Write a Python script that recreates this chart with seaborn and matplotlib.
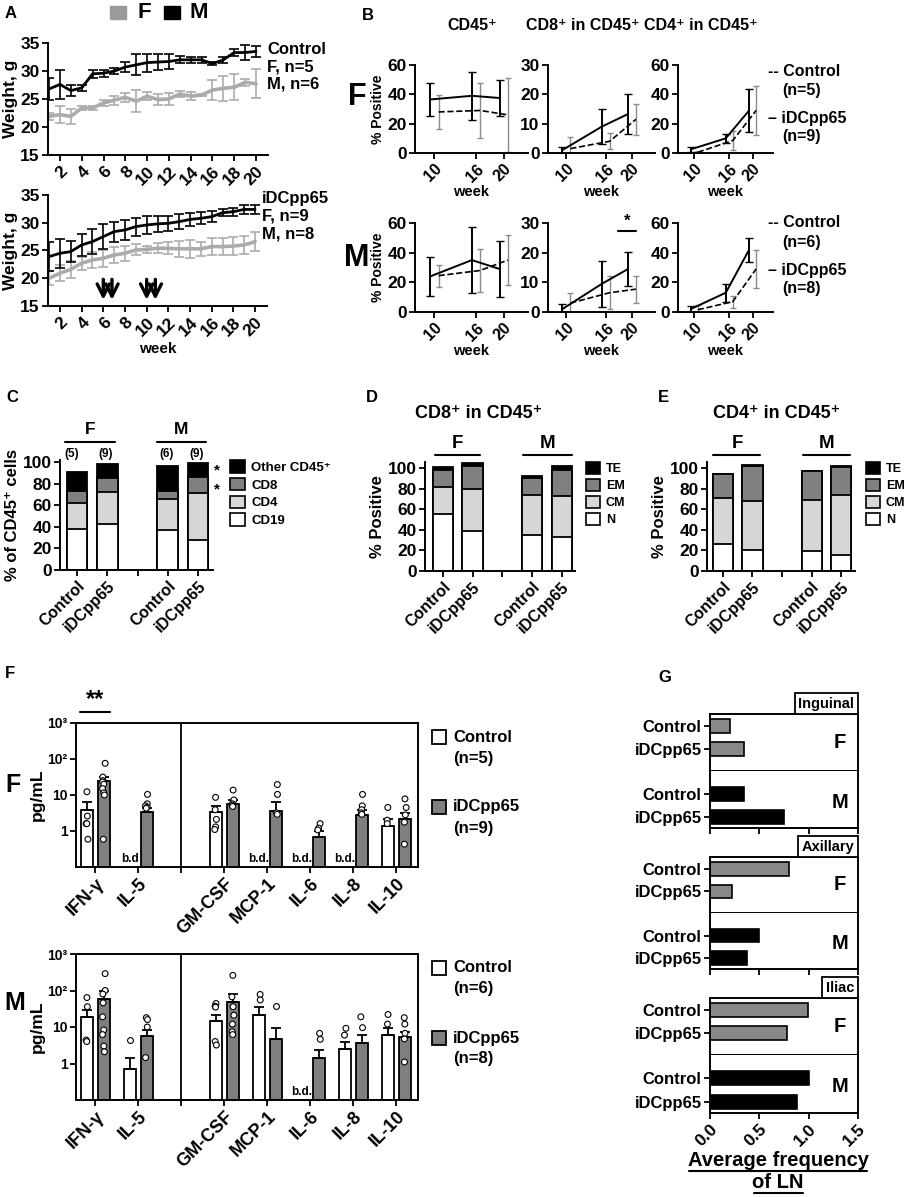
import numpy as np
import pandas as pd
import seaborn as sns
import matplotlib.pyplot as plt
from matplotlib.lines import Line2D
from matplotlib.patches import Patch, Rectangle

# ---- panel A: body weight (mean +/- SD) ----
weeks = list(range(1, 21))
ctrl_m = [26.8, 27.6, 26.5, 27.0, 29.5, 29.6, 30.0, 30.7, 31.1, 31.5,
          31.6, 31.7, 32.0, 32.0, 32.0, 31.3, 32.0, 33.3, 33.3, 33.5]
ctrl_m_err = [1.9, 2.6, 1.0, 0.5, 0.7, 0.6, 0.5, 0.9, 1.9, 1.6,
              1.5, 1.4, 0.6, 0.5, 0.5, 0.3, 0.5, 0.6, 1.4, 1.0]
ctrl_f = [21.9, 22.2, 21.9, 23.4, 23.4, 24.3, 24.8, 25.3, 24.6, 25.5,
          24.9, 25.0, 25.9, 25.5, 25.7, 26.6, 26.9, 27.1, 28.0, 27.7]
ctrl_f_err = [0.6, 1.5, 1.3, 0.3, 0.4, 0.6, 0.8, 0.8, 2.0, 0.7,
              1.0, 1.0, 0.6, 0.7, 0.2, 1.8, 2.2, 2.3, 0.6, 2.6]
idc_m = [23.9, 24.5, 24.8, 26.0, 26.6, 27.5, 28.4, 28.7, 29.3, 29.6,
         29.8, 29.9, 30.2, 30.6, 30.8, 31.1, 31.8, 32.0, 32.4, 32.4]
idc_m_err = [2.6, 2.6, 1.9, 2.0, 2.2, 2.3, 1.8, 1.8, 1.6, 1.6,
             1.5, 1.4, 1.3, 1.2, 1.1, 1.0, 0.6, 0.7, 0.8, 0.8]
idc_f = [20.0, 20.9, 21.6, 22.7, 23.3, 23.6, 24.2, 24.5, 25.1, 25.2,
         25.4, 25.4, 25.3, 25.3, 25.3, 25.7, 25.7, 25.8, 26.0, 26.6]
idc_f_err = [1.3, 1.4, 1.5, 1.2, 1.4, 1.5, 1.5, 1.4, 1.0, 0.7,
             0.9, 1.1, 1.4, 1.6, 1.3, 1.5, 1.5, 1.7, 1.6, 1.7]
vaccine_weeks = [6, 6.8, 10, 10.8]

# ---- panel B: blood T cells ----
b_weeks = [10, 16, 20]
b_titles = ["CD45⁺", "CD8⁺ in CD45⁺", "CD4⁺ in CD45⁺"]
b_f_idc = [[36.5, 39, 37.5], [1, 9, 13.3], [2.5, 10, 29]]
b_f_idc_err = [[11.5, 16.5, 12.5], [1, 6, 6.8], [1.5, 3, 14.5]]
b_f_ctrl = [[28, 29, 26], [1.5, 4, 11.5], [0.5, 8.5, 29]]
b_f_ctrl_err = [[11.8, 19, 25], [4, 2.8, 5.2], [0.8, 6.5, 17]]
b_m_idc = [[24, 35, 29], [1, 9.5, 14.5], [2, 13, 42]]
b_m_idc_err = [[13, 22, 19], [1.8, 7.7, 5.6], [2.3, 6, 8]]
b_m_ctrl = [[24.5, 28, 35], [3, 6.5, 7.7], [1.5, 7, 29]]
b_m_ctrl_err = [[7.5, 14.5, 17], [3.3, 5.6, 4.6], [3.5, 4, 13]]
b_ymax = [60, 30, 60]

# ---- panels C-E: stacked composition ----
bar_groups = ["F Control", "F iDCpp65", "M Control", "M iDCpp65"]
c_cd19 = [38, 43, 37, 28]
c_cd4 = [24, 29, 29, 43]
c_cd8 = [11, 13, 7, 15]
c_other = [18, 13, 23, 13]
c_n = ["(5)", "(9)", "(6)", "(9)"]
d_n = [55, 39, 35, 33.5]
d_cm = [27, 41, 39, 39.5]
d_em = [16.4, 22, 16.5, 25.4]
d_te = [2.6, 3, 1.5, 3.6]
e_n = [26, 20, 19, 15.5]
e_cm = [45, 48, 50, 58]
e_em = [23, 34, 28, 28]
e_te = [0.6, 0.6, 0.6, 0.6]

# ---- panel F: cytokines (mean + SEM, individual mice) ----
cytokines = ["IFN-γ", "IL-5", "GM-CSF", "MCP-1", "IL-6", "IL-8", "IL-10"]
nan = np.nan
f_ctrl_mean = [3.9, nan, 3.3, nan, nan, nan, 1.37]
f_ctrl_sem = [2.3, nan, 1.5, nan, nan, nan, 0.8]
f_idc_mean = [24, 3.4, 5.7, 3.7, 0.7, 2.85, 2.2]
f_idc_sem = [8, 0.9, 1.6, 2.5, 0.3, 1.0, 1.0]
m_ctrl_mean = [18.4, 0.72, 15, 22, nan, 2.5, 5.9]
m_ctrl_sem = [10.6, 0.73, 7, 14, nan, 1.5, 3.3]
m_idc_mean = [60, 5.8, 49, 4.7, 1.4, 3.6, 5.2]
m_idc_sem = [38, 2.5, 31, 4.9, 0.9, 2.4, 2.1]
f_ctrl_pts = {"IFN-γ": [12.3, 2.6, 1.6, 1.6, 0.59],
              "GM-CSF": [8.6, 3.9, 2.1, 1.3, 1.1],
              "IL-10": [4.5, 2.0, 1.6]}
f_idc_pts = {"IFN-γ": [76, 31.5, 25, 23, 20, 15, 11.5, 10, 0.59],
             "IL-5": [10.4, 5.7, 5.0, 4.6, 4.3],
             "GM-CSF": [13.7, 7.3, 5.7, 5.2, 4.8],
             "MCP-1": [19.5, 10.4, 3.2, 2.9],
             "IL-6": [1.6, 1.2, 1.07],
             "IL-8": [10.4, 5.0, 3.9, 3.2, 2.9],
             "IL-10": [7.8, 4.5, 2.8, 1.76, 0.43]}
m_ctrl_pts = {"IFN-γ": [64, 36, 4.4, 4.0],
              "IL-5": [4.4],
              "GM-CSF": [44, 37, 35, 4.0, 3.2],
              "MCP-1": [78, 55],
              "IL-8": [9.2, 6.0],
              "IL-10": [22, 12]}
m_idc_pts = {"IFN-γ": [290, 100, 80, 46, 19, 8.3, 6.2, 3.0, 2.1],
             "IL-5": [18, 16, 10, 1.45],
             "GM-CSF": [260, 67, 36, 21, 12, 7.4, 6.2],
             "MCP-1": [38],
             "IL-6": [6.7, 4.6],
             "IL-8": [19, 9.6],
             "IL-10": [18, 12, 6.7, 4.7, 1.1]}

# ---- panel G: lymph node frequency ----
ln_sites = ["Inguinal", "Axillary", "Iliac"]
ln_f_ctrl = [0.20, 0.80, 0.99]
ln_f_idc = [0.34, 0.22, 0.78]
ln_m_ctrl = [0.34, 0.50, 1.00]
ln_m_idc = [0.755, 0.375, 0.88]

# ------------------------------------------------------------------
sns.set_theme(style="ticks")
plt.rcParams['font.family'] = ['Liberation Sans', 'DejaVu Sans']
plt.rcParams['font.weight'] = 'bold'
plt.rcParams['axes.labelweight'] = 'bold'
plt.rcParams['axes.linewidth'] = 1.4
plt.rcParams['axes.edgecolor'] = 'black'
plt.rcParams['axes.labelcolor'] = 'black'
plt.rcParams['text.color'] = 'black'
for a in ['xtick', 'ytick']:
    plt.rcParams[a + '.color'] = 'black'
    plt.rcParams[a + '.major.width'] = 1.3
    plt.rcParams[a + '.major.size'] = 4
    plt.rcParams[a + '.major.pad'] = 2

W, H = 915, 1197
fig = plt.figure(figsize=(W / 100, H / 100), dpi=100)
fig.patch.set_facecolor('white')


def box(l, t, r, b):
    return fig.add_axes([l / W, 1 - b / H, (r - l) / W, (b - t) / H])


def ftext(x, y, s, **kw):
    kw.setdefault('ha', 'center')
    kw.setdefault('va', 'center')
    kw.setdefault('fontweight', 'bold')
    fig.text(x / W, 1 - y / H, s, **kw)


def fline(x0, x1, y, lw=1.5):
    fig.add_artist(Line2D([x0 / W, x1 / W], [1 - y / H, 1 - y / H],
                          color='black', lw=lw))


def rot_labels(ax, size):
    for lab in ax.get_xticklabels():
        lab.set_rotation(45)
        lab.set_ha('right')
        lab.set_rotation_mode('anchor')
        lab.set_fontsize(size)
        lab.set_fontweight('bold')


# ================= A =================
GRAY_F = '#ababab'


def weight_panel(ax, f_mean, f_err, m_mean, m_err):
    for mean, err, col, lw in [(f_mean, f_err, GRAY_F, 2.6), (m_mean, m_err, 'black', 2.0)]:
        ax.errorbar(weeks, mean, yerr=err, fmt='none', ecolor=col,
                    elinewidth=1.2, capsize=3.5, capthick=1.2)
        sns.lineplot(x=weeks, y=mean, color=col, lw=lw, ax=ax)
    ax.set_xlim(0.9, 21.1)
    ax.set_ylim(15, 35)
    ax.set_yticks([15, 20, 25, 30, 35])
    ax.set_xticks(range(2, 21, 2))
    ax.tick_params(axis='y', labelsize=12.5)
    rot_labels(ax, 12.5)
    ax.set_ylabel('Weight, g', fontsize=12.5)
    ax.yaxis.set_label_coords(-0.135, 0.5)
    sns.despine(ax=ax)


axA1 = box(48, 43, 268, 155)
weight_panel(axA1, ctrl_f, ctrl_f_err, ctrl_m, ctrl_m_err)
axA2 = box(48, 195, 267, 306)
weight_panel(axA2, idc_f, idc_f_err, idc_m, idc_m_err)
axA2.set_xlabel('week', fontsize=11, labelpad=2)
for w in vaccine_weeks:
    axA2.annotate('', xy=(w, 15.6), xytext=(w, 20.3),
                  arrowprops=dict(arrowstyle='->', lw=2.4, color='black',
                                  mutation_scale=22))

ftext(11, 13, 'A', fontsize=12)
fig.add_artist(Rectangle((110 / W, 1 - 19 / H), 16 / W, 13 / H, color='#9a9a9a',
                         transform=fig.transFigure))
ftext(144, 13, 'F', fontsize=16)
fig.add_artist(Rectangle((164 / W, 1 - 19 / H), 16 / W, 13 / H, color='black',
                         transform=fig.transFigure))
ftext(199, 13, 'M', fontsize=16)
for i, s in enumerate(['Control', 'F, n=5', 'M, n=6']):
    ftext(267, 50 + i * 17, s, ha='left', fontsize=12)
for i, s in enumerate(['iDCpp65', 'F, n=9', 'M, n=8']):
    ftext(262, 198 + i * 18, s, ha='left', fontsize=12)

# ================= B =================
ftext(368, 15, 'B', fontsize=12)
b_lefts = [(415, 528), (548, 655), (678, 773)]
b_title_x = [472, 583, 701]
for j in range(3):
    ftext(b_title_x[j], 26, b_titles[j], fontsize=11.5)


def b_panel(ax, idc, idc_err, ctrl, ctrl_err, ymax):
    x_i = [w - 0.6 for w in b_weeks]
    x_c = [w + 0.6 for w in b_weeks]
    ax.errorbar(x_c, ctrl, yerr=ctrl_err, fmt='none', ecolor='#8a8a8a',
                elinewidth=1.0, capsize=2.5)
    ax.errorbar(x_i, idc, yerr=idc_err, fmt='none', ecolor='black',
                elinewidth=1.4, capsize=3)
    sns.lineplot(x=x_c, y=ctrl, color='black', lw=1.2, ls='--', ax=ax)
    sns.lineplot(x=x_i, y=idc, color='black', lw=1.4, ax=ax)
    ax.set_xlim(7.2, 23.5)
    ax.set_ylim(0, ymax)
    ax.set_yticks(np.linspace(0, ymax, 4))
    ax.set_xticks(b_weeks)
    ax.tick_params(axis='y', labelsize=12.5)
    rot_labels(ax, 11.5)
    ax.set_xlabel('week', fontsize=10.5, labelpad=0)
    sns.despine(ax=ax)


for j, (l, r) in enumerate(b_lefts):
    ax = box(l, 65, r, 153)
    b_panel(ax, b_f_idc[j], b_f_idc_err[j], b_f_ctrl[j], b_f_ctrl_err[j], b_ymax[j])
    if j == 0:
        ax.set_ylabel('% Positive', fontsize=10, labelpad=2)
    ax = box(l, 223, r, 312)
    b_panel(ax, b_m_idc[j], b_m_idc_err[j], b_m_ctrl[j], b_m_ctrl_err[j], b_ymax[j])
    if j == 0:
        ax.set_ylabel('% Positive', fontsize=10, labelpad=2)

ftext(357, 97, 'F', fontsize=22)
ftext(357, 258, 'M', fontsize=22)
ftext(627, 221, '*', fontsize=12)
fline(618, 636, 231)
for y0, n1, n2 in [(71, '(n=5)', '(n=9)'), (223, '(n=6)', '(n=8)')]:
    ftext(768, y0, '-- Control', ha='left', fontsize=11.5)
    ftext(782, y0 + 19, n1, ha='left', fontsize=11.5)
    ftext(768, y0 + 47, '– iDCpp65', ha='left', fontsize=11.5)
    ftext(782, y0 + 66, n2, ha='left', fontsize=11.5)

# ================= C, D, E =================
STACK_COLORS = ['white', '#d6d6d6', '#808080', 'black']
order5 = [bar_groups[0], bar_groups[1], ' ', bar_groups[2], bar_groups[3]]


def stacked(ax, layers, ymax, xlim):
    tops = np.cumsum(np.array(layers, dtype=float), axis=0)
    for top, col in reversed(list(zip(tops, STACK_COLORS))):
        sns.barplot(x=bar_groups, y=top, order=order5, color=col, saturation=1,
                    edgecolor='black', linewidth=1.3, width=0.68, errorbar=None, ax=ax)
    ax.set_ylim(0, ymax)
    ax.set_xlim(*xlim)
    ax.set_yticks([0, 20, 40, 60, 80, 100])
    ax.set_xticks(range(5))
    ax.set_xticklabels(['Control', 'iDCpp65', '', 'Control', 'iDCpp65'])
    rot_labels(ax, 11.5)
    ax.tick_params(axis='y', labelsize=12.5)
    sns.despine(ax=ax)


def stack_legend(ax, labels, x, y, size):
    handles = [Patch(fc=c, ec='black', lw=1.2) for c in STACK_COLORS[::-1]]
    ax.legend(handles, labels, loc='upper left', bbox_to_anchor=(x / W, 1 - y / H),
              bbox_transform=fig.transFigure, frameon=False, fontsize=size,
              handlelength=1.1, handleheight=1.1, handletextpad=0.5,
              labelspacing=0.3, borderaxespad=0, borderpad=0)


axC = box(60, 460, 213, 570)
stacked(axC, [c_cd19, c_cd4, c_cd8, c_other], 102, (-0.57, 4.5))
axC.set_ylabel('% of CD45⁺ cells', fontsize=12, labelpad=2)
stack_legend(axC, ['Other CD45⁺', 'CD8', 'CD4', 'CD19'], 230, 460, 9.5)
ftext(12, 397, 'C', fontsize=12)
ftext(90, 430, 'F', fontsize=12.5)
fline(65, 115, 442)
ftext(181, 430, 'M', fontsize=12.5)
fline(157, 206, 442)
for xc, s in zip([72, 106, 167, 197], c_n):
    ftext(xc, 454, s, fontsize=8.5)
ftext(217, 470, '*', fontsize=11)
ftext(217, 489, '*', fontsize=11)

axD = box(425, 462, 575, 571)
stacked(axD, [d_n, d_cm, d_em, d_te], 106, (-0.6, 4.45))
axD.set_ylabel('% Positive', fontsize=12, labelpad=2)
stack_legend(axD, ['TE', 'EM', 'CM', 'N'], 586, 462, 9)
ftext(372, 397, 'D', fontsize=12)
ftext(479, 413, 'CD8⁺ in CD45⁺', fontsize=13)
ftext(457, 444, 'F', fontsize=13.5)
fline(435, 480, 455)
ftext(548, 444, 'M', fontsize=13.5)
fline(523, 572, 455)

axE = box(707, 462, 855, 571)
stacked(axE, [e_n, e_cm, e_em, e_te], 106, (-0.54, 4.47))
axE.set_ylabel('% Positive', fontsize=12, labelpad=2)
stack_legend(axE, ['TE', 'EM', 'CM', 'N'], 866, 462, 9)
ftext(663, 398, 'E', fontsize=12)
ftext(777, 413, 'CD4⁺ in CD45⁺', fontsize=13)
ftext(737, 444, 'F', fontsize=13.5)
fline(713, 760, 455)
ftext(827, 444, 'M', fontsize=13.5)
fline(803, 850, 455)

# ================= F =================
order8 = cytokines[:2] + [' '] + cytokines[2:]


def cyto_panel(ax, c_mean, c_sem, i_mean, i_sem, c_pts, i_pts):
    bars = pd.DataFrame({
        'cyto': cytokines * 2,
        'group': ['Control'] * 7 + ['iDCpp65'] * 7,
        'val': c_mean + i_mean,
    }).dropna()
    pts = pd.DataFrame([(k, g, v) for g, d in [('Control', c_pts), ('iDCpp65', i_pts)]
                        for k, vals in d.items() for v in vals],
                       columns=['cyto', 'group', 'val'])
    ax.set_yscale('log')
    sns.barplot(data=bars, x='cyto', y='val', hue='group', order=order8,
                hue_order=['Control', 'iDCpp65'],
                palette={'Control': 'white', 'iDCpp65': '#7f7f7f'},
                saturation=1, edgecolor='black', linewidth=1.3, width=0.8, gap=0.3,
                errorbar=None, legend=False, ax=ax)
    for mean, sem, off in [(c_mean, c_sem, -0.2), (i_mean, i_sem, 0.2)]:
        xs = [order8.index(c) + off for c in cytokines]
        ax.errorbar(xs, mean, yerr=[np.zeros(7), sem], fmt='none', ecolor='black',
                    elinewidth=1.3, capsize=3.5, capthick=1.3, zorder=3)
    np.random.seed(3)
    sns.stripplot(data=pts, x='cyto', y='val', hue='group', order=order8,
                  hue_order=['Control', 'iDCpp65'], dodge=True, jitter=0.07,
                  palette={'Control': 'white', 'iDCpp65': 'white'},
                  edgecolor='black', linewidth=0.8, size=4.2, legend=False,
                  zorder=5, ax=ax)
    for c, v in zip(cytokines, c_mean):
        if np.isnan(v):
            lab = 'b.d' if c == 'IL-5' else 'b.d.'
            ax.text(order8.index(c) - 0.2, 0.115, lab, ha='center', va='bottom',
                    fontsize=8.5, fontweight='bold')
    ax.axvline(2, color='black', lw=1.3)
    ax.set_ylim(0.1, 1000)
    ax.set_xlim(-0.45, 7.5)
    ax.set_yticks([1, 10, 100, 1000])
    ax.set_yticklabels(['1', '10', '10²', '10³'])
    ax.yaxis.set_minor_locator(plt.NullLocator())
    ax.tick_params(axis='y', labelsize=10)
    ax.set_xticks(range(8))
    ax.set_xticklabels(order8)
    rot_labels(ax, 13)
    ax.set_xlabel('')
    ax.set_ylabel('pg/mL', fontsize=12.5, labelpad=2)


axF1 = box(76, 723, 418, 867)
cyto_panel(axF1, f_ctrl_mean, f_ctrl_sem, f_idc_mean, f_idc_sem, f_ctrl_pts, f_idc_pts)
axF2 = box(76, 954, 418, 1100)
cyto_panel(axF2, m_ctrl_mean, m_ctrl_sem, m_idc_mean, m_idc_sem, m_ctrl_pts, m_idc_pts)

ftext(10, 674, 'F', fontsize=12)
ftext(13, 785, 'F', fontsize=18)
ftext(15, 1003, 'M', fontsize=18)
ftext(95, 700, '**', fontsize=17)
fline(80, 110, 712)
for y0, n1, n2 in [(737, '(n=5)', '(n=9)'), (968, '(n=6)', '(n=8)')]:
    for dy, col, lab, n in [(0, 'white', 'Control', n1), (70, '#7f7f7f', 'iDCpp65', n2)]:
        fig.add_artist(Rectangle((432 / W, 1 - (y0 + dy + 7) / H), 14 / W, 14 / H,
                                 fc=col, ec='black', lw=1.3, transform=fig.transFigure))
        ftext(453, y0 + dy, lab, ha='left', fontsize=12)
        ftext(453, y0 + dy + 21, n, ha='left', fontsize=12)

# ================= G =================
ftext(665, 677, 'G', fontsize=12)
site_rows = [(714, 771, 828), (857, 913, 969), (998, 1055, 1113)]
for s, (t, mid, b) in enumerate(site_rows):
    for part, (top, bot) in enumerate([(t, mid), (mid, b)]):
        ax = box(710, top, 858, bot)
        vals = [ln_f_ctrl[s], ln_f_idc[s]] if part == 0 else [ln_m_ctrl[s], ln_m_idc[s]]
        col = '#888888' if part == 0 else 'black'
        sns.barplot(x=vals, y=['Control', 'iDCpp65'], orient='h', color=col,
                    saturation=1, edgecolor='black', linewidth=1.2, width=0.6,
                    errorbar=None, ax=ax)
        ax.set_xlim(0, 1.5)
        if part == 0:
            ax.set_ylim(1.96, -0.52)
            ax.set_xticks([])
            ax.text(0.975, 1.06, ln_sites[s], transform=ax.transAxes, ha='right',
                    va='bottom', fontsize=10.5, fontweight='bold',
                    bbox=dict(boxstyle='square,pad=0.25', fc='white', ec='black', lw=1.3))
        else:
            ax.set_ylim(1.48, -1.0)
            ax.spines['top'].set_visible(False)
            ax.set_xticks([0, 0.5, 1.0, 1.5])
            if s == 2:
                ax.set_xticklabels(['0.0', '0.5', '1.0', '1.5'])
                rot_labels(ax, 12.5)
            else:
                ax.set_xticklabels([])
        ax.tick_params(axis='y', labelsize=12)
        for lab in ax.get_yticklabels():
            lab.set_fontweight('bold')
        ax.set_xlabel('')
        ax.set_ylabel('')
        ax.text(0.88, 0.5 if part == 0 else 0.45, 'FM'[part], transform=ax.transAxes,
                ha='center', va='center', fontsize=14.5, fontweight='bold')

ftext(778, 1160, 'Average frequency', fontsize=14.5)
fline(689, 867, 1171)
ftext(778, 1183, 'of LN', fontsize=14.5)
fline(754, 803, 1193)

fig.savefig('out.png', dpi=100, facecolor='white')
